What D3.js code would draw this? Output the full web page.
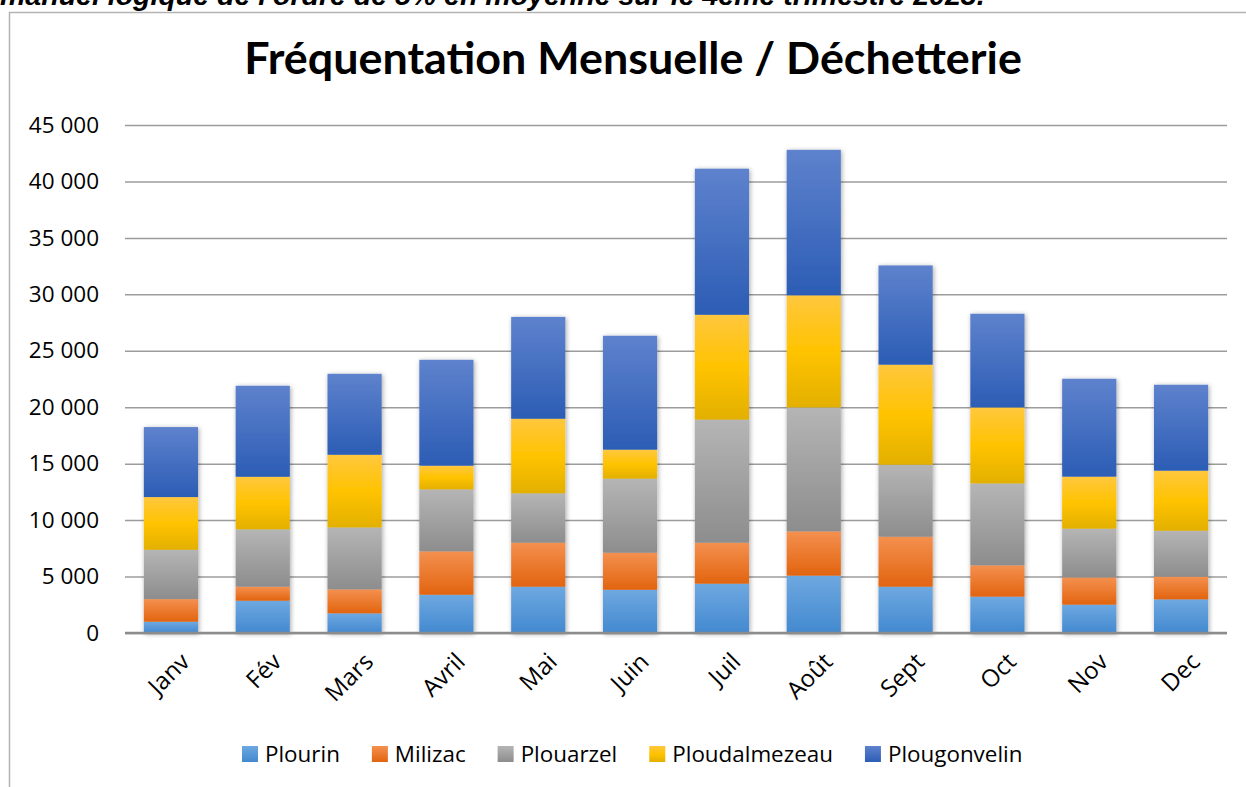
<!DOCTYPE html>
<html>
<head>
<meta charset="utf-8">
<script src="https://cdn.jsdelivr.net/npm/d3@7"></script>
<style>
  body { margin: 0; background: #fff; overflow: hidden; }
  text { font-family: "Open Sans", sans-serif; fill: #000; }
</style>
</head>
<body>
<script>
// months + values per dechetterie
var months = ["Janv", "Fév", "Mars", "Avril", "Mai", "Juin", "Juil", "Août", "Sept", "Oct", "Nov", "Dec"];
var plourin = [1000, 2860, 1740, 3390, 4100, 3830, 4370, 5080, 4100, 3220, 2510, 2980];
var milizac = [2000, 1240, 2120, 3840, 3900, 3280, 3630, 3920, 4430, 2770, 2410, 2010];
var plouarzel = [4370, 5080, 5490, 5490, 4370, 6560, 10900, 10980, 6370, 7260, 4320, 4070];
var ploudalmezeau = [4670, 4660, 6440, 2100, 6610, 2570, 9290, 9930, 8870, 6730, 4610, 5320];
var plougonvelin = [6200, 8060, 7170, 9380, 9020, 10090, 12940, 12890, 8790, 8300, 8670, 7610];
var seriesNames = ["Plourin", "Milizac", "Plouarzel", "Ploudalmezeau", "Plougonvelin"];
var yTicks = [0, 5000, 10000, 15000, 20000, 25000, 30000, 35000, 40000, 45000];

var W = 1246, H = 787;
var plot = { left: 125, right: 1227, top: 125, bottom: 633 };

// gradient top / bottom colours
var grad = {
  Plourin: ["#6ea8e0", "#4389d0"],
  Milizac: ["#f4904f", "#e2640f"],
  Plouarzel: ["#b5b5b5", "#8d8d8d"],
  Ploudalmezeau: ["#ffc73e", "#e3b000"],
  Plougonvelin: ["#5e82cd", "#2c5db5"]
};

var rows = months.map(function (m, i) {
  return {
    month: m,
    Plourin: plourin[i],
    Milizac: milizac[i],
    Plouarzel: plouarzel[i],
    Ploudalmezeau: ploudalmezeau[i],
    Plougonvelin: plougonvelin[i]
  };
});

var svg = d3.select("body").append("svg").attr("width", W).attr("height", H);
var defs = svg.append("defs");

seriesNames.forEach(function (s, k) {
  var lg = defs.append("linearGradient").attr("id", "g" + k)
    .attr("x1", 0).attr("y1", 0).attr("x2", 0).attr("y2", 1);
  lg.append("stop").attr("offset", "0%").attr("stop-color", grad[s][0]);
  if (s == "Ploudalmezeau") lg.append("stop").attr("offset", "50%").attr("stop-color", "#ffc300");
  lg.append("stop").attr("offset", "100%").attr("stop-color", grad[s][1]);
});

var sh = defs.append("filter").attr("id", "shadow")
  .attr("x", "-20%").attr("y", "-5%").attr("width", "140%").attr("height", "110%");
sh.append("feDropShadow").attr("dx", 1).attr("dy", 1).attr("stdDeviation", 2.5)
  .attr("flood-color", "#000").attr("flood-opacity", 0.35);

// top text of the page (cut off by the page edge, like the source)
var topTxt = svg.append("text")
  .attr("x", 0).attr("y", 4.5)
  .style("font-family", "'Liberation Sans', Arial, sans-serif")
  .style("font-weight", "bold").style("font-style", "italic")
  .style("font-size", "21px")
  .text("manuel logique de l'ordre de 5% en moyenne sur le 4ème trimestre 2023.");
var tl = topTxt.node().getComputedTextLength();
topTxt.style("font-size", (21 * 985 / tl) + "px");

// chart frame
svg.append("path")
  .attr("d", "M9.5," + H + " V12.5 H" + W)
  .attr("fill", "none").attr("stroke", "#b3b3b3").attr("stroke-width", 1.5);

// title
var title = svg.append("text")
  .attr("x", 633).attr("y", 74)
  .attr("text-anchor", "middle")
  .style("font-family", "Lato, sans-serif")
  .style("font-weight", "bold")
  .style("font-size", "38px")
  .text("Fréquentation Mensuelle / Déchetterie");
var tw = title.node().getComputedTextLength();
title.style("font-size", (38 * 778 / tw) + "px");

var x = d3.scaleBand().domain(months).range([plot.left, plot.right])
  .paddingInner(0.41).paddingOuter(0.205);
var y = d3.scaleLinear().domain([0, 45000]).range([plot.bottom, plot.top]);

var fr = d3.formatLocale({ decimal: ",", thousands: " ", grouping: [3], currency: ["", " €"] });

// y axis + gridlines
var yAxis = svg.append("g")
  .attr("transform", "translate(" + plot.left + ",0)")
  .call(d3.axisLeft(y).tickValues(yTicks).tickFormat(fr.format(",d"))
    .tickSizeInner(-(plot.right - plot.left)).tickSizeOuter(0).tickPadding(26));
yAxis.select(".domain").remove();
yAxis.selectAll(".tick line").attr("stroke", "#9c9c9c").attr("stroke-width", 1.5);
yAxis.selectAll(".tick text")
  .style("font-family", "'Open Sans', sans-serif")
  .style("font-size", "22.5px").attr("fill", "#000");

// bars
var stack = d3.stack().keys(seriesNames)(rows);
var barsG = svg.append("g").attr("filter", "url(#shadow)");
barsG.selectAll("g.layer")
  .data(stack)
  .enter().append("g")
  .attr("class", "layer")
  .attr("fill", function (d, k) { return "url(#g" + k + ")"; })
  .selectAll("rect")
  .data(function (d) { return d; })
  .enter().append("rect")
  .attr("x", function (d) { return x(d.data.month); })
  .attr("width", x.bandwidth())
  .attr("y", function (d) { return y(d[1]); })
  .attr("height", function (d) { return y(d[0]) - y(d[1]); });

// baseline
svg.append("line")
  .attr("x1", plot.left).attr("x2", plot.right)
  .attr("y1", y(0)).attr("y2", y(0))
  .attr("stroke", "#8c8c8c").attr("stroke-width", 2.5);

// month labels, rotated
svg.append("g").selectAll("text")
  .data(months)
  .enter().append("text")
  .attr("text-anchor", "end")
  .attr("transform", function (d) {
    return "translate(" + (x(d) + x.bandwidth() / 2 + 8) + ",651) rotate(-45)";
  })
  .attr("dy", "0.72em")
  .style("font-size", "24px")
  .text(function (d) { return d; });

// legend
var lx = 242;
seriesNames.forEach(function (s, k) {
  svg.append("rect")
    .attr("x", lx).attr("y", 746).attr("width", 16).attr("height", 16)
    .attr("fill", "url(#g" + k + ")");
  var t = svg.append("text")
    .attr("x", lx + 23).attr("y", 762)
    .style("font-size", "22.4px")
    .text(s);
  lx = lx + 23 + t.node().getComputedTextLength() + 32;
});
</script>
</body>
</html>
